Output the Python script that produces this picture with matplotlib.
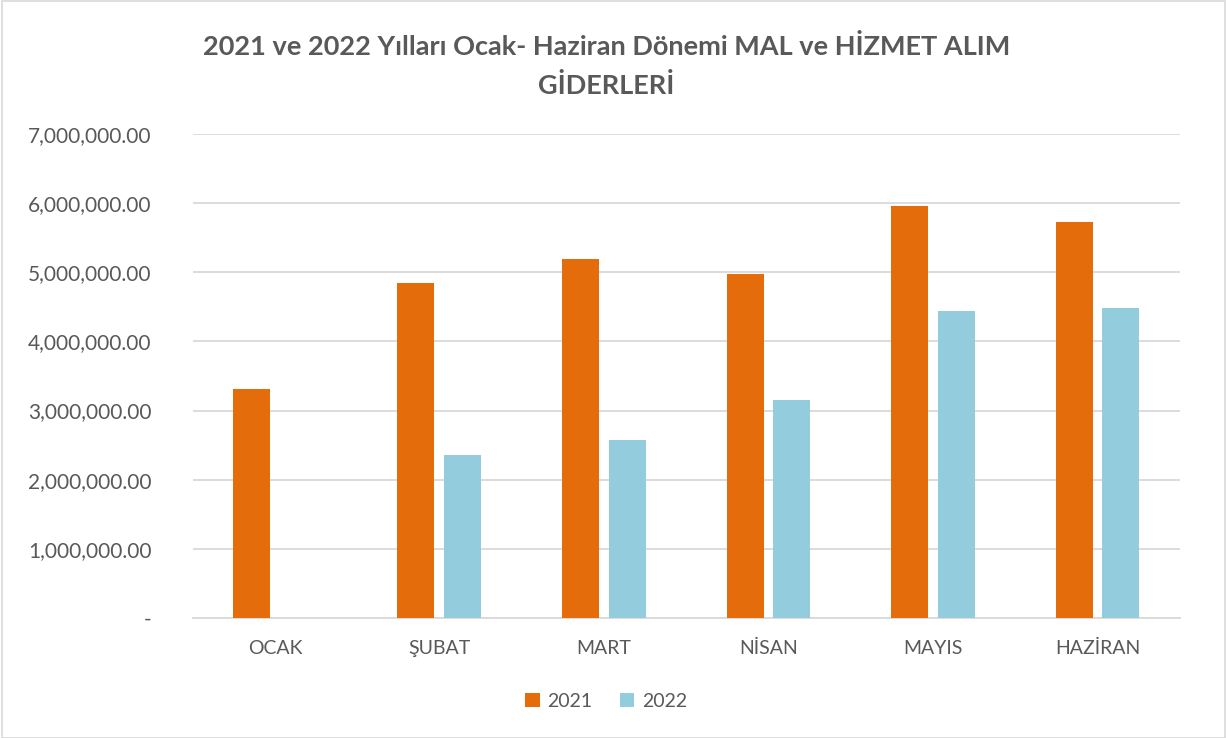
import numpy as np
import matplotlib
matplotlib.use("Agg")
import matplotlib.pyplot as plt
from matplotlib.ticker import FuncFormatter
from matplotlib.patches import Rectangle

# data
months = ["OCAK", "ŞUBAT", "MART", "NİSAN", "MAYIS", "HAZİRAN"]
y2021 = [3318000, 4845000, 5188000, 4980000, 5965000, 5723000]
y2022 = [0, 2353000, 2578000, 3150000, 4434000, 4477000]
series_names = ["2021", "2022"]
title = "2021 ve 2022 Yılları Ocak- Haziran Dönemi MAL ve HİZMET ALIM\nGİDERLERİ"

plt.rcParams['font.family'] = ['Lato', 'DejaVu Sans']
grey = "#595959"

fig = plt.figure(figsize=(12.27, 7.38), dpi=100)
ax = fig.add_axes([0.157, 0.1626, 0.8045, 0.6558])

x = np.arange(len(months))
w = 0.225
off = 0.1425
ax.bar(x - off, y2021, w, color="#E46C0A", label=series_names[0], zorder=3)
ax.bar(x + off, y2022, w, color="#93CDDD", label=series_names[1], zorder=3)

ax.set_xlim(-0.5, len(months) - 0.5)
ax.set_ylim(0, 7000000)
ax.set_yticks(np.arange(0, 7000001, 1000000))
ax.yaxis.set_major_formatter(FuncFormatter(lambda v, p: "-" if v == 0 else f"{v:,.2f}"))
ax.set_xticks(x)
ax.set_xticklabels(months)
ax.tick_params(axis="both", length=0, colors=grey)
ax.tick_params(axis="x", pad=16, labelsize=14)
ax.tick_params(axis="y", pad=29.5, labelsize=15)

ax.grid(axis="y", color="#d9d9d9", linewidth=1.3, zorder=0)
for s in ["top", "right", "left"]:
    ax.spines[s].set_visible(False)
ax.spines["bottom"].set_color("#d9d9d9")
ax.spines["bottom"].set_linewidth(1.3)

fig.text(0.494, 0.954, title, ha="center", va="top", fontsize=19.5, fontweight="bold",
         color=grey, linespacing=1.68)

leg = fig.legend(loc="center", bbox_to_anchor=(0.494, 0.05), ncol=2, frameon=False,
                 fontsize=14, handlelength=0.75, handleheight=0.75, columnspacing=1.4,
                 handletextpad=0.4)
for t in leg.get_texts():
    t.set_color(grey)

fig.patches.append(Rectangle((0.002, 0.0), 0.996, 0.998, transform=fig.transFigure,
                             fill=False, edgecolor="#d9d9d9", linewidth=1.2))

fig.savefig("out.png", dpi=100)
